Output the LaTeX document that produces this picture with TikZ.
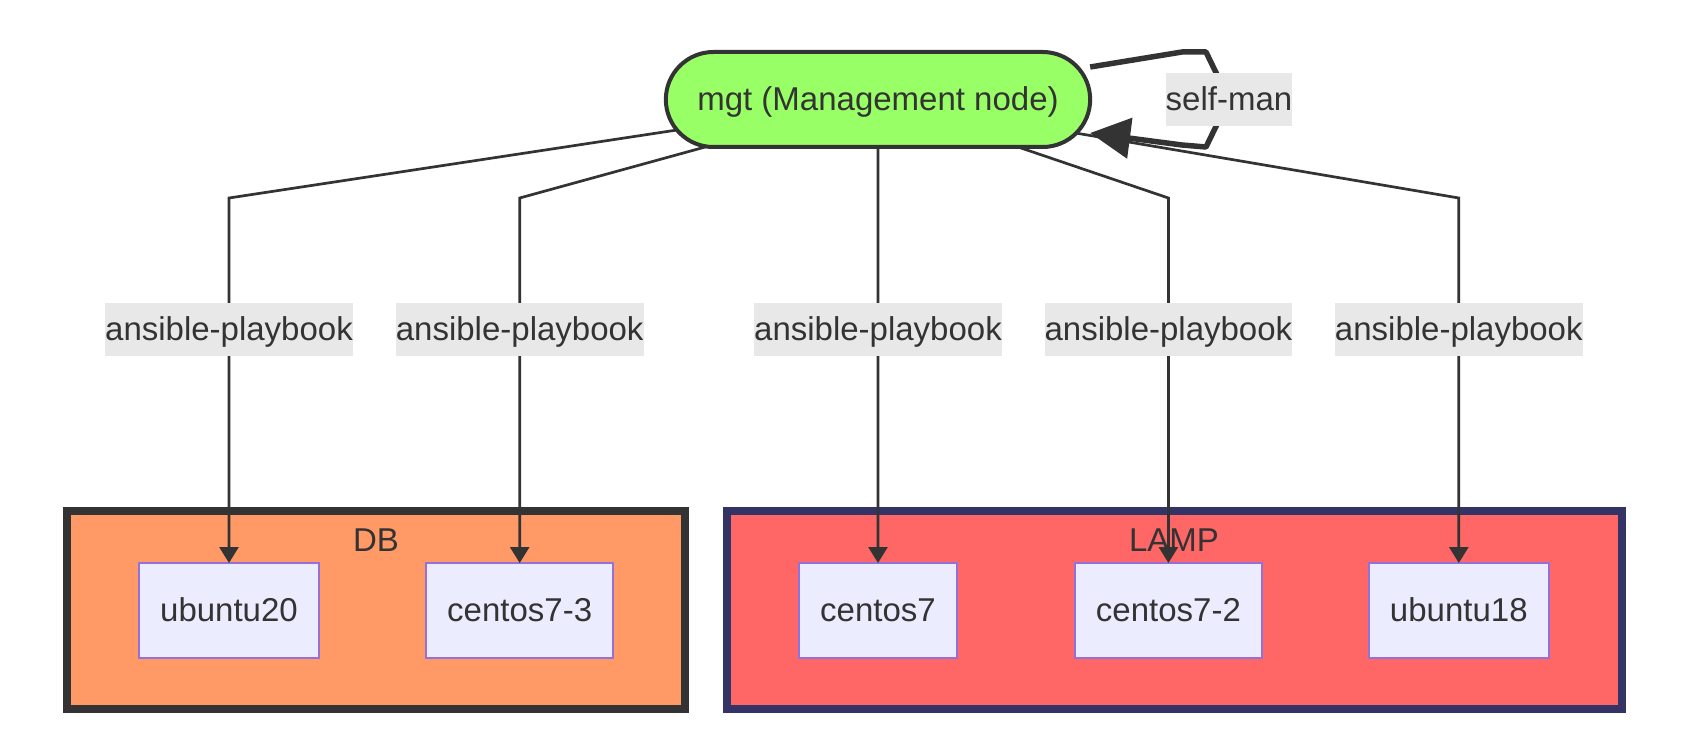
\documentclass[tikz,border=0pt]{standalone}
\usepackage{fontspec}
\setmainfont{Liberation Sans}
\usetikzlibrary{arrows.meta,shapes.misc}
\definecolor{txt}{HTML}{333333}
\definecolor{mgtfill}{HTML}{99FF66}
\definecolor{vfill}{HTML}{ECECFF}
\definecolor{vdraw}{HTML}{9370DB}
\definecolor{dbfill}{HTML}{FF9966}
\definecolor{lampfill}{HTML}{FF6666}
\definecolor{lampdraw}{HTML}{333366}
\definecolor{lblfill}{HTML}{E8E8E8}
\begin{document}
\begin{tikzpicture}[x=1pt,y=-1pt,
  every node/.style={font=\fontsize{33}{40}\selectfont, text=txt, text height=29.9pt, text depth=7pt},
  mgtbox/.style={rounded rectangle, draw=txt, fill=mgtfill, line width=4pt, minimum width=431pt, minimum height=95pt, outer sep=0pt},
  vbox/.style={rectangle, draw=vdraw, fill=vfill, line width=2pt, inner xsep=21pt, inner ysep=0pt, minimum height=95pt, outer sep=0pt},
  clusterbox/.style={rectangle, line width=8pt, minimum height=198pt, inner sep=0pt, outer sep=0pt},
  ctitle/.style={inner sep=0pt},
  elabel/.style={fill=lblfill, inner xsep=0pt, inner ysep=8pt},
  edge/.style={draw=txt, line width=2.7pt, -{Triangle[length=16pt,width=19pt]}},
  loopedge/.style={draw=txt, line width=5.5pt, line join=round, -{Triangle[length=40pt,width=40pt]}}
]
\useasboundingbox (0,0) rectangle (1684,733);

% clusters
\node[clusterbox, draw=txt, fill=dbfill, minimum width=618.5pt] (db) at (375.75,610) {};
\node[clusterbox, draw=lampdraw, fill=lampfill, minimum width=894.5pt] (lamp) at (1174.25,610) {};
\node[ctitle] (dbtitle) at (376,540) {DB};
\node[ctitle] (lamptitle) at (1174,540) {LAMP};

% nodes
\node[mgtbox] (mgt) at (878,99.5) {mgt (Management node)};
\node[vbox] (ubuntu20) at (229,610.5) {ubuntu20};
\node[vbox] (centos73) at (519.7,610.5) {centos7-3};
\node[vbox] (centos7) at (878,610.5) {centos7};
\node[vbox] (centos72) at (1168.4,610.5) {centos7-2};
\node[vbox] (ubuntu18) at (1458.8,610.5) {ubuntu18};

% helper coordinates
\coordinate (bendy) at (0,198);
\coordinate (labely) at (0,329.5);
\coordinate (smc) at (1229,99.5);
\coordinate (s1) at (1182,52);
\coordinate (s2) at (1206,52);
\coordinate (s4) at (1206,147);
\coordinate (s5) at (1182,145);

% edges
\draw[edge] (mgt) -- (ubuntu20 |- bendy) -- (ubuntu20);
\draw[edge] (mgt) -- (centos73 |- bendy) -- (centos73);
\draw[edge] (mgt) -- (centos7);
\draw[edge] (mgt) -- (centos72 |- bendy) -- (centos72);
\draw[edge] (mgt) -- (ubuntu18 |- bendy) -- (ubuntu18);

% self loop
\draw[loopedge] ([yshift=32.5pt]mgt.east) -- (s1) -- (s2) -- (smc) -- (s4) -- (s5) -- ([yshift=-33.5pt]mgt.east);

% labels
\node[elabel] (l1) at (ubuntu20 |- labely) {ansible-playbook};
\node[elabel] (l2) at (centos73 |- labely) {ansible-playbook};
\node[elabel] (l3) at (centos7 |- labely) {ansible-playbook};
\node[elabel] (l4) at (centos72 |- labely) {ansible-playbook};
\node[elabel] (l5) at (ubuntu18 |- labely) {ansible-playbook};
\node[elabel] (selfman) at (smc) {self-man};
\end{tikzpicture}
\end{document}
